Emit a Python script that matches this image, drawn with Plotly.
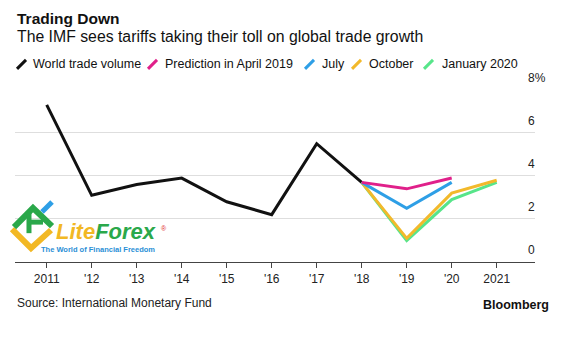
import plotly.graph_objects as go

# ---- data ----
years_hist = [2011, 2012, 2013, 2014, 2015, 2016, 2017, 2018]
world_trade = [7.3, 3.1, 3.6, 3.9, 2.8, 2.2, 5.5, 3.7]

years_apr = [2018, 2019, 2020]
pred_apr2019 = [3.7, 3.4, 3.9]
years_jul = [2018, 2019, 2020]
pred_jul = [3.7, 2.5, 3.7]
years_oct = [2018, 2019, 2020, 2021]
pred_oct = [3.7, 1.1, 3.2, 3.8]
years_jan = [2018, 2019, 2020, 2021]
pred_jan2020 = [3.7, 1.0, 2.9, 3.7]

series_names = ["World trade volume", "Prediction in April 2019", "July", "October", "January 2020"]
colors = ["#111111", "#e0208a", "#2e9fe6", "#f2b92b", "#57e58a"]

x_tickvals = list(range(2011, 2022))
x_ticktext = ["2011", "'12", "'13", "'14", "'15", "'16", "'17", "'18", "'19", "'20", "2021"]
y_tickvals = [0, 2, 4, 6, 8]
y_ticktext = ["0", "2", "4", "6", "8%"]

FONT = "Liberation Sans, Arial, Helvetica, sans-serif"

# ---- layout geometry (pixels) ----
W, H = 568, 345
YMAX = 8.04
L, R, B = 15, 535, 261.7
PX_PER_UNIT = 21.42
T = B - YMAX * PX_PER_UNIT


def xp(px):
    return (px - L) / (R - L)


def yp(py):
    return (B - py) / (B - T)


fig = go.Figure()
data = [
    (years_hist, world_trade),
    (years_apr, pred_apr2019),
    (years_jul, pred_jul),
    (years_oct, pred_oct),
    (years_jan, pred_jan2020),
]
order = [0, 4, 3, 2, 1]
for i in order:
    xs, ys = data[i]
    fig.add_trace(go.Scatter(
        x=xs, y=ys, mode="lines", name=series_names[i],
        line=dict(color=colors[i], width=3), showlegend=False,
        hoverinfo="skip",
    ))

fig.update_layout(
    width=W, height=H,
    margin=dict(l=L, r=W - R, t=T, b=H - B),
    paper_bgcolor="white", plot_bgcolor="white",
    font=dict(family=FONT, size=12, color="#111"),
    showlegend=False,
)
fig.update_xaxes(
    range=[2011 - (46.7 - L) / 45.0, 2021 + (R - 496.7) / 45.0],
    tickvals=x_tickvals, ticktext=x_ticktext,
    showgrid=False, zeroline=False,
    showline=True, linecolor="#444", linewidth=1.3,
    ticks="outside", ticklen=5, tickcolor="#444", tickwidth=1.2,
    tickfont=dict(size=12, color="#222"),
)
fig.update_yaxes(
    range=[0, YMAX], side="right",
    tickvals=y_tickvals, ticktext=y_ticktext,
    showgrid=True, gridcolor="#dedede", gridwidth=1,
    zeroline=False, showline=False, ticks="",
    ticklabelposition="outside", ticklabelshift=-12, ticklabelstandoff=-8,
    tickfont=dict(size=12, color="#222"),
)

ann = []
ann.append(dict(text="<b>Trading Down</b>", x=xp(15), y=yp(19.5), font=dict(size=15.5, color="#111")))
ann.append(dict(text="The IMF sees tariffs taking their toll on global trade growth", x=xp(15), y=yp(37),
                font=dict(size=15.8, color="#111")))
slash_x = [17, 148, 305, 352, 424]
text_x = [31, 163, 320, 367, 440]
LEG_Y = 65
shapes = []
for i, name in enumerate(series_names):
    ann.append(dict(text=name, x=xp(text_x[i]), y=yp(LEG_Y), font=dict(size=12.5, color="#111")))
    shapes.append(dict(type="line", xref="paper", yref="paper",
                       x0=xp(slash_x[i]), y0=yp(LEG_Y + 4.5), x1=xp(slash_x[i] + 9), y1=yp(LEG_Y - 4.5),
                       line=dict(color=colors[i], width=3)))
ann.append(dict(text="Source: International Monetary Fund", x=xp(15), y=yp(303), font=dict(size=12, color="#222")))
ann.append(dict(text="<b>Bloomberg</b>", x=xp(551), y=yp(305), xanchor="right", font=dict(size=12.5, color="#111")))

# watermark (LiteForex) as a single two-line text
ann.append(dict(
    text=("<b><i><span style='font-size:22px;color:#f2b824'>Lite</span>"
          "<span style='font-size:22px;color:#2aa84a'>Forex</span></i></b>"
          "<br><b><span style='font-size:7.5px'>The World of Financial Freedom</span></b>"),
    x=xp(158), y=yp(255.5), xanchor="right", yanchor="bottom", align="right",
    font=dict(size=10, color="#2a8fd6")))
ann.append(dict(text="®", x=xp(159), y=yp(228), font=dict(size=7, color="#e03030")))


def path(pts):
    return "M " + " L ".join(f"{xp(a):.4f},{yp(b):.4f}" for a, b in pts)


shapes.append(dict(type="path", xref="paper", yref="paper", path=path([(12, 229), (31, 248), (51, 230)]),
                   line=dict(color="#f2b824", width=6)))
shapes.append(dict(type="path", xref="paper", yref="paper", path=path([(14, 227), (33, 208), (52, 226)]),
                   line=dict(color="#2aa84a", width=6)))
shapes.append(dict(type="path", xref="paper", yref="paper", path=path([(29, 212), (29, 233)]),
                   line=dict(color="#2aa84a", width=5)))
shapes.append(dict(type="path", xref="paper", yref="paper", path=path([(29, 222), (43, 222)]),
                   line=dict(color="#2aa84a", width=5)))
shapes.append(dict(type="path", xref="paper", yref="paper", path=path([(42, 212), (52, 202)]),
                   line=dict(color="#2e9fe6", width=5)))

for a in ann:
    a.setdefault("xref", "paper")
    a.setdefault("yref", "paper")
    a.setdefault("xanchor", "left")
    a.setdefault("yanchor", "middle")
    a.setdefault("showarrow", False)
    a["font"].setdefault("family", FONT)

fig.update_layout(annotations=ann, shapes=shapes)
fig.write_html("out.html")
